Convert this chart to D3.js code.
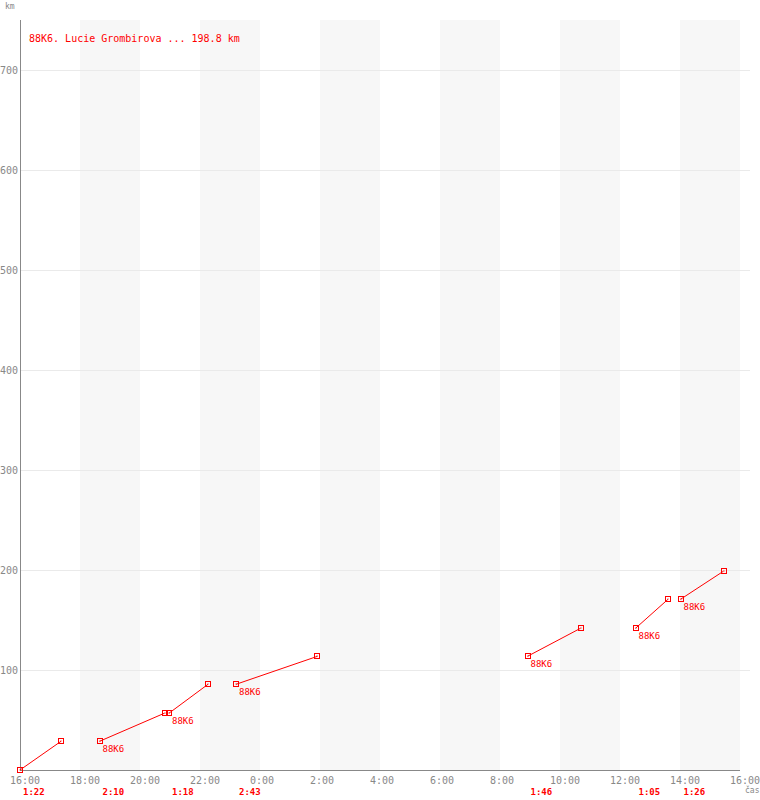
<!DOCTYPE html>
<html><head><meta charset="utf-8">
<script src="https://cdn.jsdelivr.net/npm/d3@7"></script>
<style>
html,body{margin:0;padding:0;background:#fff;}
svg{display:block;}
text{font-family:"DejaVu Sans Mono",monospace;}
</style></head>
<body>
<svg id="c" width="760" height="800"></svg>
<script>
// ---- data ----
const title = "88K6. Lucie Grombirova ... 198.8 km";
const segStart = ["16:00","18:39","20:58","23:12","08:55","12:31","14:01"];
const segEnd   = ["17:22","20:49","22:16","01:55","10:41","13:36","15:27"];
const kmStart  = [0, 28.7, 56.8, 85.7, 113.7, 141.7, 170.7];
const kmEnd    = [28.7, 56.8, 85.7, 113.7, 141.7, 170.7, 198.8];
const durations = ["1:22","2:10","1:18","2:43","1:46","1:05","1:26"];
const segLabels = ["", "88K6", "88K6", "88K6", "88K6", "88K6", "88K6"];
const yTicks = [100,200,300,400,500,600,700];

// ---- helpers ----
const day0 = new Date(2000,0,1,16,0);
const day1 = new Date(2000,0,2,16,0);
function toDate(s){
  const [h,m] = s.split(":").map(Number);
  const d = new Date(2000,0,1,h,m);
  if (d < day0) d.setDate(2);
  return d;
}

const svg = d3.select("#c");
const x = d3.scaleTime().domain([day0, day1]).range([20, 740]);
const y = d3.scaleLinear().domain([0, 750]).range([770, 20]);

// stripes (every other 2-hour band, starting 18:00)
const xt = x.ticks(d3.timeHour.every(2));
const stripeStarts = xt.filter((d,i) => i % 2 === 1 && d < day1);
svg.append("g").selectAll("rect").data(stripeStarts).join("rect")
  .attr("x", d => x(d)).attr("y", y(750))
  .attr("width", d => x(d3.timeHour.offset(d,2)) - x(d))
  .attr("height", y(0) - y(750))
  .attr("fill", "#f7f7f7");

// gridlines
svg.append("g").selectAll("line").data(yTicks).join("line")
  .attr("x1", 20).attr("x2", 750)
  .attr("y1", d => Math.round(y(d)) + 0.5).attr("y2", d => Math.round(y(d)) + 0.5)
  .attr("stroke", "#eaeaea").attr("stroke-width", 1);

// y tick labels
svg.append("g").selectAll("text").data(yTicks).join("text")
  .attr("x", 18).attr("y", d => y(d) + 4)
  .attr("text-anchor", "end").attr("font-size", 10).attr("fill", "#888")
  .text(d => d);

// axes lines
svg.append("line").attr("x1", 20.5).attr("x2", 20.5).attr("y1", y(750)).attr("y2", y(0))
  .attr("stroke", "#888").attr("stroke-width", 1);
svg.append("line").attr("x1", 20).attr("x2", 740).attr("y1", y(0)+0.5).attr("y2", y(0)+0.5)
  .attr("stroke", "#888").attr("stroke-width", 1);

// x tick labels
const fmt = d3.timeFormat("%-H:%M");
svg.append("g").selectAll("text").data(xt).join("text")
  .attr("x", d => x(d) - 10).attr("y", 784)
  .attr("font-size", 10).attr("fill", "#888")
  .text(d => fmt(d));

// axis titles
svg.append("text").attr("x", 5).attr("y", 9).attr("font-size", 8).attr("fill", "#888").text("km");
svg.append("text").attr("x", 745).attr("y", 793).attr("font-size", 8).attr("fill", "#888").text("čas");

// title
svg.append("text").attr("x", 29).attr("y", 42).attr("font-size", 10).attr("fill", "#f00").text(title);

// segments
const segs = segStart.map((s,i) => ({
  t0: toDate(s), t1: toDate(segEnd[i]), k0: kmStart[i], k1: kmEnd[i],
  dur: durations[i], lab: segLabels[i]
}));
const g = svg.append("g");
g.selectAll("line.seg").data(segs).join("line").attr("class","seg")
  .attr("x1", d => x(d.t0)).attr("y1", d => y(d.k0))
  .attr("x2", d => x(d.t1)).attr("y2", d => y(d.k1))
  .attr("stroke", "#f00").attr("stroke-width", 1);

const pts = segs.flatMap(d => [{t:d.t0,k:d.k0},{t:d.t1,k:d.k1}]);
g.selectAll("rect.pt").data(pts).join("rect").attr("class","pt")
  .attr("x", d => Math.round(x(d.t)) - 2.5).attr("y", d => Math.round(y(d.k)) - 2.5)
  .attr("width", 5).attr("height", 5)
  .attr("fill", "none").attr("stroke", "#f00").attr("stroke-width", 1);
g.selectAll("rect.dot").data(pts).join("rect").attr("class","dot")
  .attr("x", d => Math.round(x(d.t)) - 0.5).attr("y", d => Math.round(y(d.k)) - 0.5)
  .attr("width", 1).attr("height", 1).attr("fill", "#f00");

// segment labels
g.selectAll("text.lab").data(segs.filter(d => d.lab)).join("text").attr("class","lab")
  .attr("x", d => x(d.t0) + 3).attr("y", d => y(d.k0) + 10.5)
  .attr("font-size", 9).attr("fill", "#f00")
  .text(d => d.lab);

// duration labels
g.selectAll("text.dur").data(segs).join("text").attr("class","dur")
  .attr("x", d => x(d.t0) + 3).attr("y", 795)
  .attr("font-size", 9).attr("font-weight", "bold").attr("fill", "#f00")
  .text(d => d.dur);
</script>
</body></html>
